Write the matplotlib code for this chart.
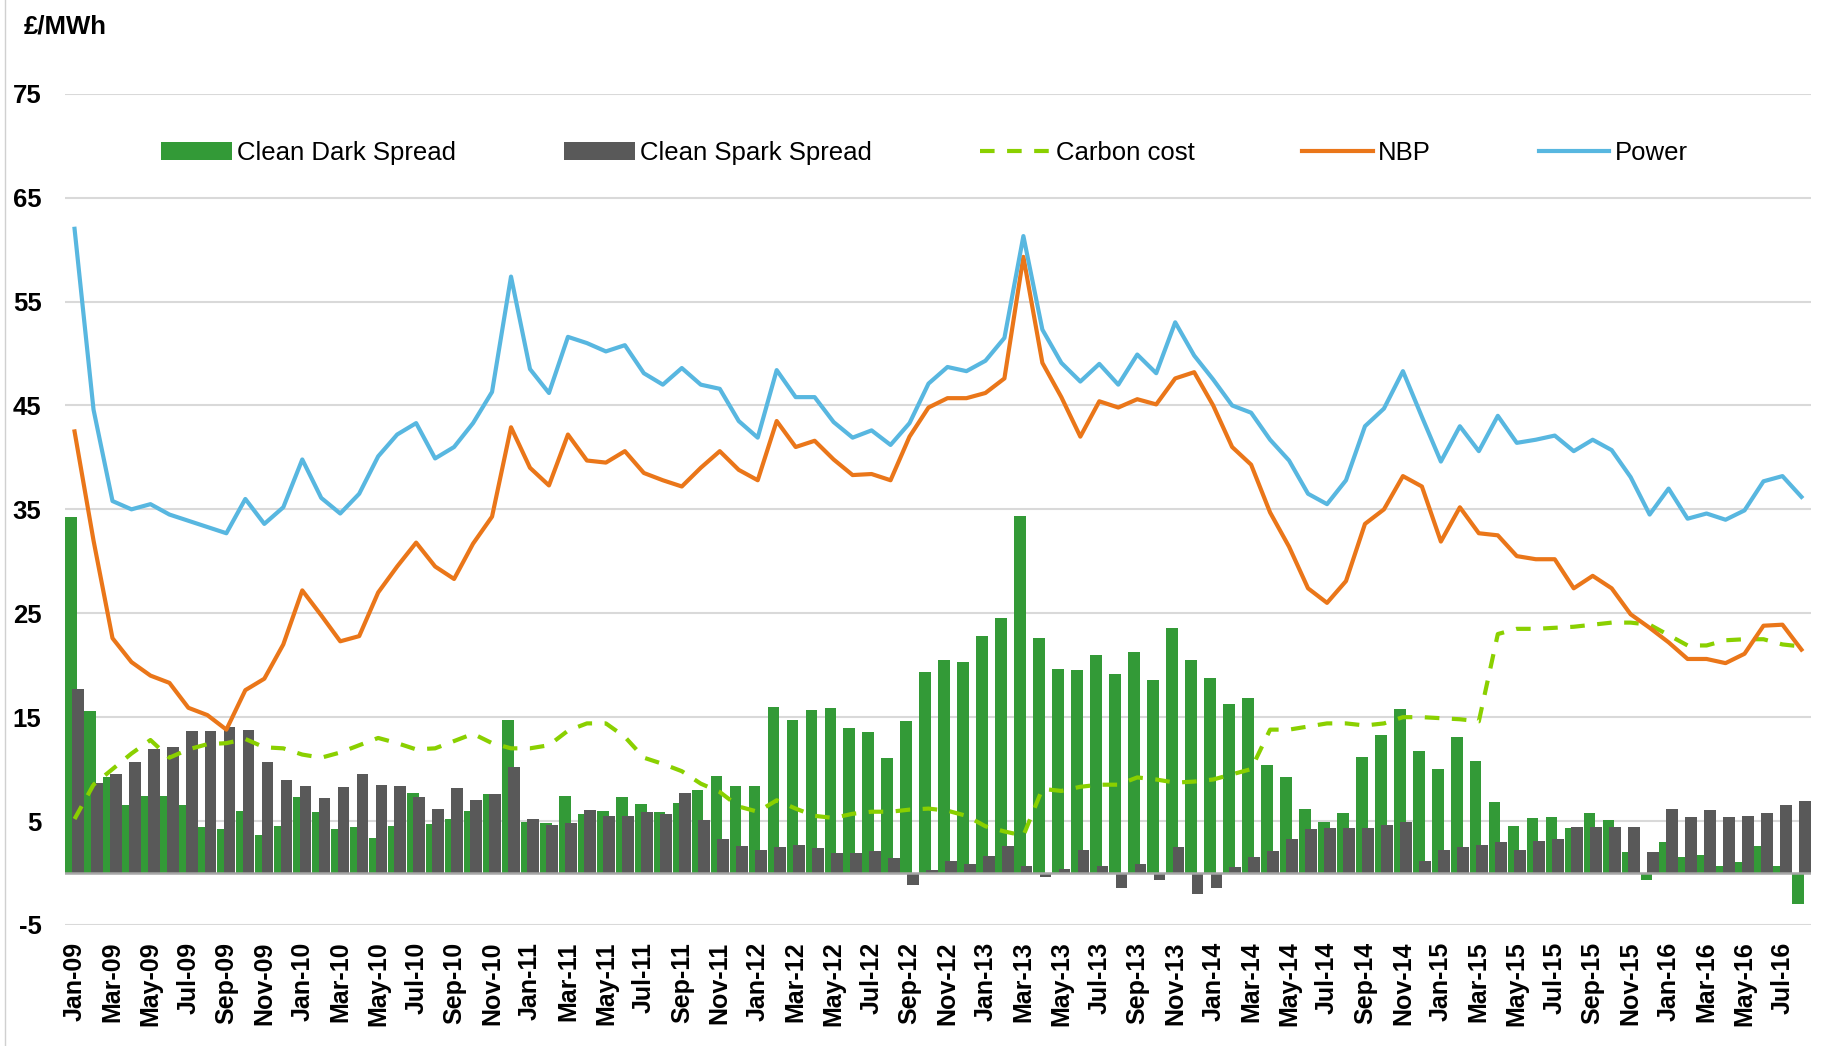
import numpy as np
import pandas as pd
import matplotlib
matplotlib.use("Agg")
import matplotlib.pyplot as plt

plt.rcParams["font.family"] = ["Liberation Sans", "DejaVu Sans"]
plt.rcParams["axes.unicode_minus"] = False

# monthly, Jan-09 .. Aug-16
months = pd.date_range("2009-01-01", periods=92, freq="MS").strftime("%b-%y").tolist()

clean_dark = [34.3, 15.6, 9.2, 6.5, 7.4, 7.4, 6.5, 4.4, 4.2, 6.0, 3.7, 4.5, 7.3, 5.9, 4.2, 4.4,
              3.4, 4.5, 7.7, 4.7, 5.2, 6.0, 7.6, 14.7, 4.9, 4.8, 7.4, 5.7, 6.0, 7.3, 6.6, 5.9,
              6.7, 8.0, 9.3, 8.4, 8.4, 16.0, 14.7, 15.7, 15.9, 14.0, 13.6, 11.1, 14.6, 19.3,
              20.5, 20.3, 22.8, 24.5, 34.4, 22.6, 19.6, 19.5, 21.0, 19.2, 21.3, 18.6, 23.6,
              20.5, 18.8, 16.3, 16.8, 10.4, 9.2, 6.2, 4.9, 5.8, 11.2, 13.3, 15.8, 11.7, 10.0,
              13.1, 10.8, 6.8, 4.5, 5.3, 5.4, 4.3, 5.8, 5.1, 2.0, -0.7, 3.0, 1.5, 1.7, 0.7,
              1.1, 2.6, 0.7, -3.0]
clean_spark = [17.7, 8.7, 9.5, 10.7, 11.9, 12.1, 13.7, 13.7, 14.1, 13.8, 10.7, 9.0, 8.4, 7.2,
               8.3, 9.5, 8.5, 8.4, 7.3, 6.2, 8.2, 7.0, 7.6, 10.2, 5.2, 4.6, 4.8, 6.1, 5.5, 5.5,
               5.9, 5.7, 7.7, 5.1, 3.3, 2.6, 2.2, 2.5, 2.7, 2.4, 1.9, 1.9, 2.1, 1.4, -1.2, 0.3,
               1.2, 0.9, 1.6, 2.6, 0.7, -0.4, 0.4, 2.2, 0.7, -1.4, 0.9, -0.7, 2.5, -2.0, -1.4,
               0.6, 1.5, 2.1, 3.3, 4.2, 4.3, 4.3, 4.3, 4.6, 4.9, 1.2, 2.2, 2.5, 2.7, 3.0, 2.2,
               3.1, 3.3, 4.4, 4.4, 4.4, 4.4, 2.0, 6.2, 5.4, 6.1, 5.4, 5.5, 5.8, 6.5, 6.9]
carbon = [5.2, 8.5, 10.0, 11.5, 12.8, 11.1, 11.9, 12.4, 12.5, 12.9, 12.1, 12.0, 11.4, 11.1,
          11.6, 12.3, 13.0, 12.5, 11.9, 12.0, 12.7, 13.4, 12.5, 12.0, 12.0, 12.3, 13.7, 14.4,
          14.4, 13.1, 11.1, 10.5, 9.8, 8.6, 7.8, 6.4, 5.9, 7.0, 6.2, 5.5, 5.3, 5.7, 5.9, 5.9,
          6.1, 6.2, 6.0, 5.5, 4.5, 4.0, 3.6, 8.1, 7.9, 8.3, 8.5, 8.5, 9.2, 9.0, 8.7, 8.8,
          9.0, 9.5, 10.0, 13.8, 13.8, 14.1, 14.4, 14.4, 14.2, 14.4, 15.0, 15.0, 14.9, 14.8,
          14.6, 23.0, 23.5, 23.5, 23.6, 23.7, 23.9, 24.1, 24.1, 23.9, 22.9, 21.9, 21.9, 22.4,
          22.5, 22.5, 22.0, 21.8]
nbp = [42.5, 32.0, 22.6, 20.3, 19.0, 18.3, 15.9, 15.2, 13.8, 17.6, 18.7, 22.0, 27.2, 24.8,
       22.3, 22.8, 27.0, 29.5, 31.8, 29.5, 28.3, 31.7, 34.3, 42.9, 39.0, 37.3, 42.2, 39.7,
       39.5, 40.6, 38.5, 37.8, 37.2, 39.0, 40.6, 38.8, 37.8, 43.5, 41.0, 41.6, 39.8, 38.3,
       38.4, 37.8, 42.0, 44.8, 45.7, 45.7, 46.2, 47.6, 59.3, 49.1, 45.8, 42.0, 45.4, 44.8,
       45.6, 45.1, 47.6, 48.2, 45.0, 41.0, 39.3, 34.7, 31.4, 27.4, 26.0, 28.1, 33.6, 35.0,
       38.2, 37.2, 31.9, 35.2, 32.7, 32.5, 30.5, 30.2, 30.2, 27.4, 28.6, 27.4, 24.9, 23.6,
       22.2, 20.6, 20.6, 20.2, 21.1, 23.8, 23.9, 21.5]
power = [62.0, 44.6, 35.8, 35.0, 35.5, 34.5, 33.9, 33.3, 32.7, 36.0, 33.6, 35.2, 39.8, 36.1,
         34.6, 36.5, 40.1, 42.2, 43.3, 39.9, 41.0, 43.3, 46.3, 57.4, 48.5, 46.2, 51.6, 51.0,
         50.2, 50.8, 48.1, 47.0, 48.6, 47.0, 46.6, 43.5, 41.9, 48.4, 45.8, 45.8, 43.4, 41.9,
         42.6, 41.2, 43.3, 47.1, 48.7, 48.3, 49.3, 51.5, 61.3, 52.3, 49.1, 47.3, 49.0, 47.0,
         49.9, 48.1, 53.0, 49.8, 47.5, 45.0, 44.3, 41.7, 39.7, 36.5, 35.5, 37.8, 43.0, 44.7,
         48.3, 43.9, 39.6, 43.0, 40.6, 44.0, 41.4, 41.7, 42.1, 40.6, 41.7, 40.7, 38.1, 34.5,
         37.0, 34.1, 34.6, 34.0, 34.9, 37.7, 38.2, 36.2]

GREEN = "#339A37"
GREY = "#595959"
LIME = "#8AD000"
ORANGE = "#EA7619"
BLUE = "#58B7E0"

x = np.arange(len(months))

fig = plt.figure(figsize=(18.43, 10.46), dpi=100)
ax = fig.add_axes([0.0353, 0.1157, 0.9473, 0.7947])

b1 = ax.bar(x - 0.17, clean_dark, width=0.62, color=GREEN, label="Clean Dark Spread", zorder=2)
b2 = ax.bar(x + 0.17, clean_spark, width=0.62, color=GREY, label="Clean Spark Spread", zorder=3)
ax.axhline(0, color="#A6A6A6", lw=1.8, zorder=4)
l1, = ax.plot(x, carbon, color=LIME, lw=3.0, dashes=(3.5, 3), label="Carbon cost", zorder=5)
l2, = ax.plot(x, nbp, color=ORANGE, lw=3.0, label="NBP", zorder=6)
l3, = ax.plot(x, power, color=BLUE, lw=3.0, label="Power", zorder=7)

ax.set_xlim(-0.5, 91.5)
ax.set_ylim(-5, 75)
ax.set_yticks(np.arange(-5, 76, 10))
ax.yaxis.grid(True, color="#D9D9D9", lw=1.5, zorder=0)
ax.set_axisbelow(True)
ax.set_xticks(x[::2])
ax.set_xticklabels(months[::2], rotation=90, fontsize=18, fontweight="bold")
for lab in ax.get_yticklabels():
    lab.set_fontsize(18.5)
    lab.set_fontweight("bold")
ax.tick_params(axis="both", length=0)
ax.tick_params(axis="y", pad=17)
ax.tick_params(axis="x", pad=12)
for s in ax.spines.values():
    s.set_visible(False)

ax.legend(handles=[b1, b2, l1, l2, l3], loc="center",
          bbox_to_anchor=(924.5 / 1843, 1 - 153 / 1046),
          bbox_transform=fig.transFigure, ncol=5, frameon=False, fontsize=18.5,
          handlelength=2.75, handletextpad=0.2, columnspacing=4.2)

fig.text(24 / 1843, 1 - 27 / 1046, "£/MWh", fontsize=18.5, fontweight="bold", va="center", ha="left")
fig.add_artist(plt.Line2D([5 / 1843, 5 / 1843], [0, 1], color="#D0D0D0", lw=1))

fig.savefig("out.png", dpi=100, facecolor="white")
